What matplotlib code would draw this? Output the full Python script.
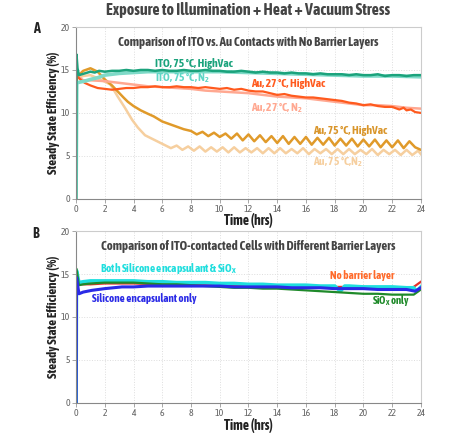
import matplotlib
matplotlib.use("Agg")
import matplotlib.pyplot as plt
from matplotlib import font_manager

# look for a narrow font that has a bold face, the reference uses a condensed bold face
fonts = font_manager.fontManager.ttflist


def wnum(w):
    if isinstance(w, int):
        return w
    return font_manager.weight_dict.get(str(w), 400)


FAM = 'DejaVu Sans'
for f in fonts:
    n = f.name
    if ('Condensed' in n or 'Narrow' in n) and 'CJK' not in n and wnum(f.weight) >= 600:
        FAM = n
        break
plt.rcParams['font.family'] = [FAM, 'DejaVu Sans']
plt.rcParams['mathtext.fontset'] = 'custom'
plt.rcParams['mathtext.rm'] = FAM + ':bold'
plt.rcParams['mathtext.bf'] = FAM + ':bold'

# ---- panel A data ----
ito_hv_t = [0, 0.03, 0.1, 0.2, 0.4, 0.6, 0.8, 1.0, 1.3, 1.6, 2.0, 2.5, 3.0, 3.5, 4.0, 4.5, 5, 5.5, 6, 6.5,
            7, 7.5, 8, 8.5, 9, 9.5, 10, 10.5, 11, 11.5, 12, 12.5, 13, 13.5, 14, 14.5, 15, 15.5, 16, 16.5,
            17, 17.5, 18, 18.5, 19, 19.5, 20, 20.5, 21, 21.5, 22, 22.5, 23, 23.5, 24]
ito_hv_v = [0, 16.8, 15.2, 14.4, 14.5, 14.6, 14.7, 14.8, 14.7, 14.9, 14.8, 14.9, 14.9, 15.0, 14.9, 15.0, 15.0, 14.9, 15.0, 14.9,
            14.9, 15.0, 14.9, 14.9, 15.0, 14.9, 14.9, 14.8, 14.8, 14.9, 14.8, 14.7, 14.8, 14.7, 14.7, 14.6, 14.7, 14.6, 14.6, 14.5,
            14.6, 14.5, 14.5, 14.5, 14.4, 14.5, 14.4, 14.4, 14.5, 14.3, 14.4, 14.4, 14.3, 14.4, 14.4]

ito_n2_t = [0, 0.05, 0.3, 0.6, 1.0, 1.5, 2.0, 2.5, 3.0, 4.0, 5.0, 6.0, 8.0, 10.0, 12.0, 14.0, 16.0, 18.0, 20.0, 22.0, 24.0]
ito_n2_v = [0, 13.5, 13.6, 13.7, 13.9, 14.1, 14.4, 14.5, 14.6, 14.7, 14.8, 14.8, 14.8, 14.8, 14.7, 14.6, 14.5, 14.4, 14.3, 14.3, 14.2]

au27_hv_t = [0, 0.05, 0.3, 0.6, 1, 1.5, 2, 2.5, 3, 3.5, 4, 4.5, 5, 5.5, 6, 6.5, 7, 7.5, 8, 8.5, 9, 9.5, 10,
             10.5, 11, 11.5, 12, 12.5, 13, 13.5, 14, 14.5, 15, 15.5, 16, 16.5, 17, 17.5, 18, 18.5, 19, 19.5,
             20, 20.5, 21, 21.5, 22, 22.5, 22.8, 23, 23.3, 23.6, 24]
au27_hv_v = [0, 14.3, 13.9, 13.5, 13.2, 12.9, 12.8, 12.7, 12.8, 12.9, 12.9, 13.0, 13.0, 13.1, 13.0, 13.0, 13.1, 13.0, 13.0,
             12.9, 13.0, 12.9, 12.8, 12.9, 12.7, 12.8, 12.6, 12.5, 12.5, 12.3, 12.1, 12.2, 12.0, 11.9, 11.8, 11.8, 11.7,
             11.6, 11.5, 11.4, 11.2, 11.1, 10.9, 11.0, 10.8, 10.7, 10.7, 10.4, 10.6, 10.3, 10.4, 10.1, 10.0]

au27_n2_t = [0, 0.05, 0.5, 1, 2, 3, 4, 5, 6, 7, 8, 9, 10, 11, 12, 13, 14, 15, 16, 17, 18, 19, 20, 21, 22, 23, 24]
au27_n2_v = [0, 14.3, 13.8, 13.8, 13.7, 13.5, 13.3, 13.1, 13.0, 12.9, 12.8, 12.6, 12.5, 12.4, 12.3, 12.1, 11.9, 11.8,
             11.7, 11.5, 11.3, 11.1, 10.9, 10.9, 10.8, 10.6, 10.5]

au75_hv_t = [0, 0.05, 0.5, 1.0, 1.5, 2.0, 2.5, 2.9, 3.3, 3.6, 4.0, 4.5, 5.0, 5.4, 6.0, 6.5, 7.0, 7.5,
             8.0, 8.4, 8.8, 9.2, 9.6, 10.0, 10.4, 10.8, 11.2, 11.6, 12.0, 12.4, 12.8, 13.2, 13.6, 14.0,
             14.4, 14.8, 15.2, 15.6, 16.0, 16.4, 16.8, 17.2, 17.6, 18.0, 18.4, 18.8, 19.2, 19.6, 20.0,
             20.4, 20.8, 21.2, 21.6, 22.0, 22.4, 22.8, 23.2, 23.6, 24.0]
au75_hv_v = [0, 14.2, 14.9, 15.2, 14.8, 13.9, 13.2, 12.5, 11.8, 11.3, 10.8, 10.3, 9.9, 9.6, 9.0, 8.7, 8.4, 8.1,
             7.9, 7.5, 7.8, 7.3, 7.7, 7.2, 7.6, 7.0, 7.6, 6.8, 7.5, 6.7, 7.4, 6.6, 7.3, 6.5,
             7.3, 6.4, 7.2, 6.4, 7.2, 6.3, 7.1, 6.3, 7.1, 6.2, 7.0, 6.2, 7.0, 6.1, 6.9,
             6.1, 6.9, 6.0, 6.8, 6.0, 6.8, 5.9, 6.7, 6.0, 5.7]

au75_n2_t = [0, 0.05, 0.5, 1.0, 1.7, 2.4, 2.9, 3.4, 3.9, 4.3, 4.8, 5.4, 6.0, 6.6,
             7.0, 7.4, 7.8, 8.2, 8.6, 9.0, 9.4, 9.8, 10.2, 10.6, 11.0, 11.4, 11.8, 12.2, 12.6, 13.0,
             13.4, 13.8, 14.2, 14.6, 15.0, 15.4, 15.8, 16.2, 16.6, 17.0, 17.4, 17.8, 18.2, 18.6,
             19.0, 19.4, 19.8, 20.2, 20.6, 21.0, 21.4, 21.8, 22.2, 22.6, 23.0, 23.4, 23.8, 24.0]
au75_n2_v = [0, 14.0, 14.3, 14.4, 13.9, 13.3, 11.9, 10.6, 9.2, 8.3, 7.4, 6.9, 6.4, 5.9,
             6.2, 5.7, 6.1, 5.6, 6.1, 5.5, 6.0, 5.5, 6.0, 5.4, 6.0, 5.4, 5.9, 5.4, 5.9, 5.3,
             5.9, 5.3, 5.9, 5.3, 5.8, 5.3, 5.9, 5.2, 5.8, 5.3, 5.8, 5.2, 5.8, 5.2,
             5.8, 5.2, 5.7, 5.2, 5.8, 5.1, 5.7, 5.2, 5.7, 5.1, 5.7, 5.1, 5.6, 5.2]

# ---- panel B data ----
both_t = [0, 0.03, 0.2, 0.5, 1, 2, 3, 4, 5, 6, 7, 8, 9, 10, 11, 12, 13, 14, 15, 16, 17, 18, 18.4, 18.7,
          19, 20, 21, 22, 23, 23.5, 23.7, 24]
both_v = [0, 15.4, 14.0, 14.1, 14.2, 14.2, 14.2, 14.2, 14.1, 14.1, 14.0, 14.0, 14.0, 13.9, 13.9, 13.8, 13.8,
          13.7, 13.7, 13.7, 13.6, 13.6, 13.0, 13.6, 13.6, 13.5, 13.5, 13.5, 13.4, 13.4, 13.0, 13.5]

blue_t = [0, 0.03, 0.2, 0.5, 1.1, 2, 3.2, 4, 5, 6, 7, 8, 9, 10, 11, 12, 13, 14, 15, 16, 17, 18, 19, 20,
          21, 22, 23, 23.6, 24]
blue_v = [0, 14.6, 12.7, 12.9, 13.1, 13.3, 13.5, 13.5, 13.6, 13.6, 13.6, 13.6, 13.6, 13.6, 13.5, 13.5, 13.5,
          13.5, 13.4, 13.4, 13.4, 13.3, 13.3, 13.3, 13.2, 13.2, 13.2, 13.0, 13.4]

green_t = [0, 0.03, 0.2, 0.5, 1, 2, 3, 4, 5, 6, 7, 8, 9, 10, 11, 12, 13, 14, 15, 16, 17, 18, 19, 20,
           21, 22, 23, 23.5, 24]
green_v = [0, 15.6, 13.7, 13.8, 13.9, 14.0, 14.0, 14.0, 13.9, 13.8, 13.8, 13.7, 13.6, 13.5, 13.4, 13.4, 13.3,
           13.3, 13.2, 13.1, 13.0, 12.9, 12.8, 12.7, 12.7, 12.6, 12.6, 12.6, 13.2]

red_t = [0, 0.03, 0.2, 1, 2, 4, 6, 8, 10, 12, 14, 16, 18, 20, 22, 23, 23.5, 24]
red_v = [0, 15.0, 13.8, 13.8, 13.9, 13.9, 13.8, 13.8, 13.7, 13.7, 13.6, 13.6, 13.5, 13.5, 13.4, 13.3, 13.5, 14.1]

x_ticks = list(range(0, 25, 2))
y_ticks = [0, 5, 10, 15, 20]

DARK = '#444444'
TICK = '#666666'

fig = plt.figure(figsize=(4.61, 4.36), dpi=100)
fig.patch.set_facecolor('white')
renderer = fig.canvas.get_renderer()


def fit(t, width_px, vertical=False):
    # resize a text so it spans about the same pixels as in the reference
    bb = t.get_window_extent(renderer)
    w = bb.height if vertical else bb.width
    t.set_fontsize(t.get_fontsize() * width_px / w)


def style(ax, xlab_y):
    ax.set_xlim(0, 24)
    ax.set_ylim(0, 20)
    ax.set_xticks(x_ticks)
    ax.set_yticks(y_ticks)
    ax.grid(True, color='#dddddd', linestyle=':', linewidth=0.7)
    ax.set_axisbelow(True)
    for s in ['left', 'bottom']:
        ax.spines[s].set_color('#888888')
    for s in ['top', 'right']:
        ax.spines[s].set_color('#cccccc')
    ax.tick_params(colors='#999999', labelcolor=TICK, labelsize=7, length=3, width=0.6, pad=1.5)
    xl = ax.set_xlabel('Time (hrs)', fontsize=10, fontweight='bold', color='#222222', va='center')
    yl = ax.set_ylabel('Steady State Efficiency (%)', fontsize=9.5, fontweight='bold', color='#222222',
                       va='center')
    ax.xaxis.set_label_coords(0.5, xlab_y)
    ax.yaxis.set_label_coords(-0.066, 0.5)
    fit(xl, 49)
    fit(yl, 123, vertical=True)


axA = fig.add_axes([0.165, 0.544, 0.748, 0.394])
axA.plot(au75_n2_t, au75_n2_v, color='#f6cf9f', lw=1.8)
axA.plot(au75_hv_t, au75_hv_v, color='#e09a2a', lw=1.8)
axA.plot(au27_n2_t, au27_n2_v, color='#ffa891', lw=1.8)
axA.plot(au27_hv_t, au27_hv_v, color='#ff5a1e', lw=1.6)
axA.plot(ito_n2_t, ito_n2_v, color='#7fdac8', lw=2.6)
axA.plot(ito_hv_t, ito_hv_v, color='#1ba37c', lw=1.8)
style(axA, -0.128)

lab = dict(fontsize=8.5, fontweight='bold', va='center', ha='left')
t = axA.text(5.5, 15.8, 'ITO, 75 °C, HighVac', color='#1ba37c', **lab)
fit(t, 77)
lab['fontsize'] = t.get_fontsize()
axA.text(5.5, 14.1, 'ITO, 75 °C, N$_2$', color='#5fd6c6', **lab)
axA.text(12.2, 13.4, 'Au, 27 °C, HighVac', color='#ff5a1e', **lab)
axA.text(12.2, 10.6, 'Au, 27 °C, N$_2$', color='#ffa891', **lab)
axA.text(16.5, 7.9, 'Au, 75 °C, HighVac', color='#d9952a', **lab)
axA.text(16.5, 4.3, 'Au, 75 °C,N$_2$', color='#f6cf9f', **lab)
t = axA.text(0.5, 0.91, 'Comparison of ITO vs. Au Contacts with No Barrier Layers', transform=axA.transAxes,
             ha='center', va='center', fontsize=8.5, fontweight='bold', color=DARK)
fit(t, 263)

axB = fig.add_axes([0.165, 0.076, 0.748, 0.394])
axB.plot(red_t, red_v, color='#e8302a', lw=1.6)
axB.plot(both_t, both_v, color='#1fdede', lw=2.6)
axB.plot(green_t, green_v, color='#1f8a2a', lw=1.6)
axB.plot(blue_t, blue_v, color='#2a2ae6', lw=2.2)
style(axB, -0.13)

t = axB.text(1.7, 15.6, 'Both Silicone encapsulant & SiO$_\\mathrm{X}$', color='#1fdede', **lab)
fit(t, 137)
t = axB.text(1.1, 12.1, 'Silicone encapsulant only', color='#2a2ae6', **lab)
fit(t, 105)
t = axB.text(17.7, 14.8, 'No barrier layer', color='#ff6a2a', **lab)
fit(t, 65)
t = axB.text(20.6, 11.9, 'SiO$_\\mathrm{X}$ only', color='#1f8a2a', **lab)
fit(t, 38)
t = axB.text(0.5, 0.91, 'Comparison of ITO-contacted Cells with Different Barrier Layers', transform=axB.transAxes,
             ha='center', va='center', fontsize=8.5, fontweight='bold', color=DARK)
fit(t, 295)

t = fig.text(0.538, 0.977, 'Exposure to Illumination + Heat + Vacuum Stress', ha='center', va='center',
             fontsize=12, fontweight='bold', color=DARK)
fit(t, 282)
fig.text(0.078, 0.933, 'A', ha='center', va='center', fontsize=10, fontweight='bold', color='#222222')
fig.text(0.078, 0.463, 'B', ha='center', va='center', fontsize=10, fontweight='bold', color='#222222')

fig.savefig('out.png', dpi=100)
